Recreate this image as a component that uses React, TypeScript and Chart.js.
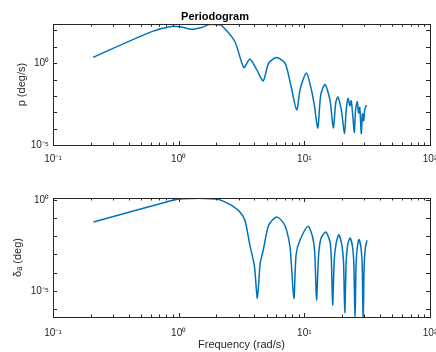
import React, { useEffect, useRef } from "react";
import { Chart, registerables } from "chart.js";

Chart.register(...registerables);

// ---- Data ----
// Periodogram (top panel)
const freqTop = [
  0.209, 0.61, 0.875, 1.05, 1.26, 1.52, 1.77, 2.07, 2.2, 2.8, 3.3, 3.69, 4.2, 4.71,
  5.2, 6.02, 7.02, 7.8, 8.69, 9.3, 10.4, 11.4, 12.0, 12.8, 13.5, 14.6, 16.0, 17.0,
  17.8, 18.5, 19.3, 19.8, 20.9, 21.5, 22.3, 23.0, 23.6, 24.3, 25.0, 25.6, 26.4,
  27.0, 27.6, 28.4, 29.0, 29.6, 30.3, 31.2,
];
const periodogram = [
  2.3, 85, 174, 160, 117, 150, 234, 220, 200, 21, 0.55, 1.8, 0.37, 0.083,
  1.0, 2.2, 1.0, 0.046, 0.0014, 0.03, 0.25, 0.022, 0.0028, 0.00011, 0.011, 0.05, 0.0055, 0.00011,
  0.004, 0.0085, 0.003, 0.0011, 0.00005, 0.0012, 0.007, 0.0025, 0.005, 0.0006, 0.00006, 0.0015, 0.0044,
  0.0009, 0.002, 0.00005, 0.0008, 0.0003, 0.0015, 0.0028,
];

// Input spectrum delta_a (bottom panel)
const freqBottom = [
  0.21, 0.45, 0.7, 1.0, 1.3, 1.6, 2.0, 2.3, 2.64, 3.08, 3.37, 3.69, 4.0, 4.23,
  4.45, 4.71, 5.2, 6.0, 6.8, 7.23, 7.7, 8.26,
  8.6, 9.22, 10.7, 11.6, 12.1, 12.5,
  13.0, 13.6, 14.8, 16.0, 16.4, 16.8,
  17.3, 17.9, 18.8, 19.9, 20.5, 21.0,
  21.5, 22.1, 23.1, 24.2, 24.8, 25.3,
  25.8, 26.4, 27.2, 28.3, 28.9, 29.4,
  29.9, 30.5, 31.5,
];
const deltaA = [
  0.06, 0.26, 0.59, 1.1, 1.2, 1.2, 1.1, 0.8, 0.49, 0.21, 0.074, 0.0032, 0.00025, 0.000004,
  0.00032, 0.0017, 0.04, 0.115, 0.056, 0.021, 0.0025, 0.000004,
  0.001, 0.006, 0.035, 0.01, 0.0013, 0.0000032,
  0.001, 0.008, 0.017, 0.005, 0.00063, 0.0000017,
  0.0005, 0.004, 0.012, 0.0032, 0.0004, 0.00000065,
  0.00032, 0.0032, 0.008, 0.0025, 0.00025, 0.00000025,
  0.00025, 0.0025, 0.0066, 0.002, 0.0002, 0.00000016,
  0.0002, 0.002, 0.006,
];

// Tick labels
const xTickValues = [0.1, 1, 10, 100];
const xTickLabels = ["10\u207B\u00B9", "10\u2070", "10\u00B9", "10\u00B2"];
const yTickValues = [1e-5, 1];
const yTickLabels = ["10\u207B\u2075", "10\u2070"];

const FONT = "'Liberation Sans', Arial, Helvetica, sans-serif";
const AXIS_COLOR = "#262626";
const LINE_COLOR = "#0072BD";

const boxPlugin = {
  id: "matlabBox",
  afterDatasetsDraw(chart: any) {
    const { ctx, chartArea: a, scales } = chart;
    const x = scales.x;
    const y = scales.y;
    ctx.save();
    ctx.strokeStyle = AXIS_COLOR;
    ctx.lineWidth = 1;
    ctx.beginPath();
    for (let d = -1; d <= 1; d++) {
      for (let m = 1; m <= 9; m++) {
        const v = m * Math.pow(10, d);
        const px = Math.round(x.getPixelForValue(v)) + 0.5;
        const len = m === 1 ? 4 : 2.5;
        ctx.moveTo(px, a.bottom);
        ctx.lineTo(px, a.bottom - len);
        ctx.moveTo(px, a.top);
        ctx.lineTo(px, a.top + len);
      }
    }
    const lo = Math.ceil(Math.log10(y.min) - 1e-9);
    const hi = Math.floor(Math.log10(y.max) + 1e-9);
    for (let e = lo; e <= hi; e++) {
      const py = Math.round(y.getPixelForValue(Math.pow(10, e))) + 0.5;
      ctx.moveTo(a.left, py);
      ctx.lineTo(a.left + 4, py);
      ctx.moveTo(a.right, py);
      ctx.lineTo(a.right - 4, py);
    }
    ctx.stroke();
    ctx.strokeRect(
      Math.round(a.left) + 0.5,
      Math.round(a.top) + 0.5,
      Math.round(a.right) - Math.round(a.left),
      Math.round(a.bottom) - Math.round(a.top)
    );
    ctx.restore();
  },
};

function makeConfig(opts: {
  freq: number[];
  values: number[];
  yMin: number;
  yMax: number;
  yTitle: string;
  yTitlePad: number;
  title?: string;
  xTitle?: string;
  xHeight: number;
  xTickPad: number;
  padTop: number;
}) {
  return {
    type: "line" as const,
    data: {
      datasets: [
        {
          data: opts.freq.map((f, i) => ({ x: f, y: opts.values[i] })),
          borderColor: LINE_COLOR,
          borderWidth: 1.5,
          pointRadius: 0,
          tension: 0.25,
          fill: false,
        },
      ],
    },
    options: {
      responsive: false,
      animation: false as const,
      events: [],
      layout: { padding: { top: opts.padTop, right: 6, left: 0, bottom: 0 } },
      plugins: {
        legend: { display: false },
        tooltip: { enabled: false },
        title: opts.title
          ? {
              display: true,
              text: opts.title,
              color: "#000",
              font: { family: FONT, size: 11, weight: "bold" as const },
              padding: { top: 10, bottom: 1 },
            }
          : { display: false },
      },
      scales: {
        x: {
          type: "logarithmic" as const,
          min: 0.1,
          max: 100,
          afterBuildTicks: (s: any) => {
            s.ticks = xTickValues.map((v) => ({ value: v }));
          },
          afterFit: (s: any) => {
            s.height = opts.xHeight;
            s.paddingLeft = 0;
            s.paddingRight = 0;
          },
          ticks: {
            autoSkip: false,
            maxRotation: 0,
            padding: opts.xTickPad,
            color: AXIS_COLOR,
            font: { family: FONT, size: 10 },
            callback: (_v: any, i: number) => xTickLabels[i],
          },
          grid: { display: false, drawTicks: false },
          border: { display: false },
          title: opts.xTitle
            ? {
                display: true,
                text: opts.xTitle,
                color: AXIS_COLOR,
                font: { family: FONT, size: 11 },
                padding: { top: 0, bottom: 0 },
              }
            : { display: false },
        },
        y: {
          type: "logarithmic" as const,
          min: opts.yMin,
          max: opts.yMax,
          afterBuildTicks: (s: any) => {
            s.ticks = yTickValues.map((v) => ({ value: v }));
          },
          afterFit: (s: any) => {
            s.width = 53;
            s.paddingTop = 0;
            s.paddingBottom = 0;
          },
          ticks: {
            autoSkip: false,
            padding: 4,
            color: AXIS_COLOR,
            font: { family: FONT, size: 10 },
            callback: (_v: any, i: number) => yTickLabels[i],
          },
          grid: { display: false, drawTicks: false },
          border: { display: false },
          title: {
            display: true,
            text: opts.yTitle,
            color: AXIS_COLOR,
            font: { family: FONT, size: 11 },
            padding: { top: opts.yTitlePad, bottom: 0 },
          },
        },
      },
    },
    plugins: [boxPlugin],
  };
}

export default function App() {
  const topRef = useRef<HTMLCanvasElement>(null);
  const botRef = useRef<HTMLCanvasElement>(null);

  useEffect(() => {
    const top = new Chart(
      topRef.current as HTMLCanvasElement,
      makeConfig({
        freq: freqTop,
        values: periodogram,
        yMin: 1e-5,
        yMax: 240,
        yTitle: "p (deg/s)",
        yTitlePad: 15,
        title: "Periodogram",
        xHeight: 30,
        xTickPad: 8,
        padTop: 0,
      }) as any
    );
    const bot = new Chart(
      botRef.current as HTMLCanvasElement,
      makeConfig({
        freq: freqBottom,
        values: deltaA,
        yMin: 3.7e-7,
        yMax: 1.26,
        yTitle: "\u03B4\u2090 (deg)",
        yTitlePad: 11,
        xTitle: "Frequency (rad/s)",
        xHeight: 35,
        xTickPad: 10,
        padTop: 23,
      }) as any
    );
    return () => {
      top.destroy();
      bot.destroy();
    };
  }, []);

  return (
    <div
      style={{
        position: "fixed",
        left: 0,
        top: 0,
        width: 436,
        height: 352,
        background: "#fff",
      }}
    >
      <canvas
        ref={topRef}
        width={436}
        height={175}
        style={{ position: "absolute", left: 0, top: 0, display: "block" }}
      />
      <canvas
        ref={botRef}
        width={436}
        height={177}
        style={{ position: "absolute", left: 0, top: 175, display: "block" }}
      />
    </div>
  );
}
